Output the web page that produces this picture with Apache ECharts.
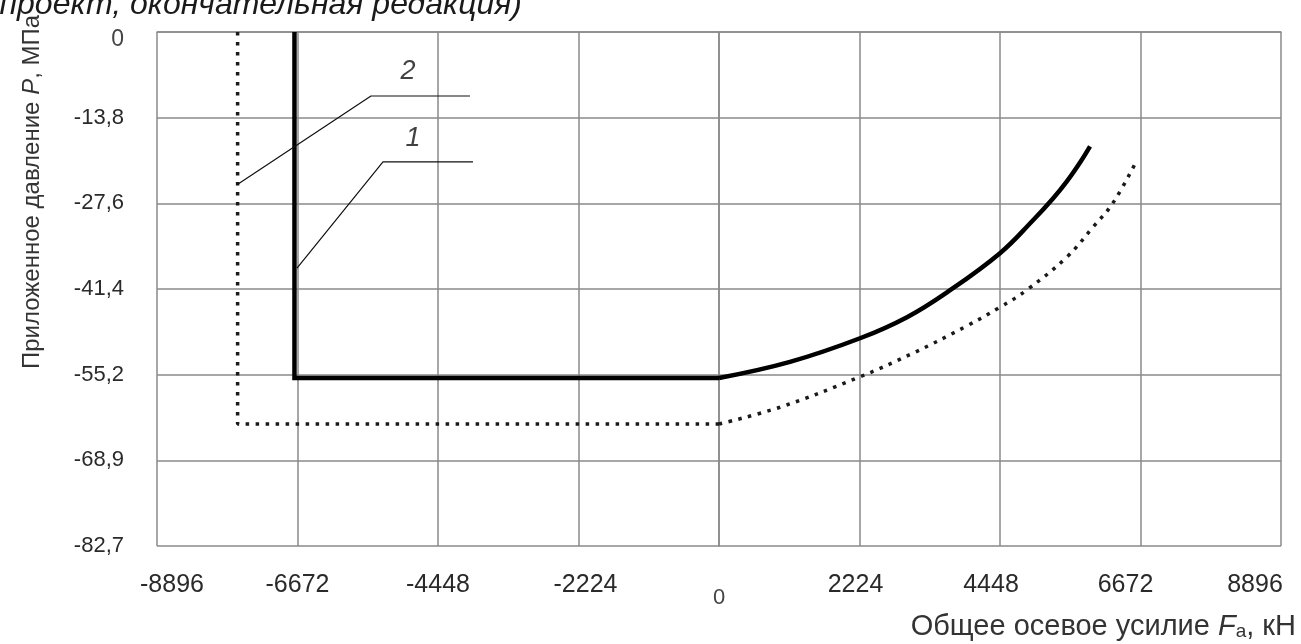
<!DOCTYPE html>
<html>
<head>
<meta charset="utf-8">
<script src="https://cdn.jsdelivr.net/npm/echarts@6/dist/echarts.min.js"></script>
<style>
html,body{margin:0;padding:0;background:#fff;}
#chartPressure{width:1301px;height:644px;}
</style>
</head>
<body>
<div id="chartPressure"></div>
<script>
// ticks
var xStep = 2224;
var yStep = 13.79;
var yTickLabels = ['0', '-13,8', '-27,6', '-41,4', '-55,2', '-68,9', '-82,7'];

// curve 1 (solid) and curve 2 (dotted): [F, kN ; P, MPa]
var curve1 = [[-6720, 0], [-6720, -55.7], [0, -55.7], [1124, -53.1], [2232, -49.3], [2976, -45.9],
    [3609, -41.9], [4448, -35.6], [4971, -30.3], [5287, -26.8], [5509, -24.0], [5715, -21.0], [5873, -18.4]];
var curve2 = [[-7620, 0], [-7620, -63.1], [0, -63.1], [966, -60.4], [2232, -55.5], [3071, -51.7],
    [3926, -47.3], [4448, -44.3], [4876, -41.5], [5509, -36.2], [5921, -31.4], [6237, -27.5], [6617, -20.6]];

// leader lines and their numbers
var leader1 = [[-6680, -38.0], [-5319, -20.9], [-3894, -20.9]];
var leader2 = [[-7630, -24.6], [-5509, -10.3], [-3942, -10.3]];
var leaderNames = ['1', '2'];
var leaderLabelPos = [[-4844, -17.2], [-4923, -6.4]];

var myChart = echarts.init(document.getElementById('chartPressure'));

var gridColor = '#8a8a8a';
var textColor = '#2a2a2a';
var solidStyle = {color: '#000', width: 4.5, join: 'miter'};
var dotStyle = {color: '#1a1a1a', width: 3.5, type: [3.5, 6.5], cap: 'butt'};

// labels in the scan sit a little off their ticks
var xLabelStyle = {
    '-8896': 'l30', '-2224': 'l14', '2224': 'r8', '4448': 'r18', '6672': 'r30', '8896': 'r52'
};

var option = {
    animation: false,
    backgroundColor: '#fff',
    grid: {left: 157, right: 20, top: 32, bottom: 98, containLabel: false, outerBoundsMode: 'none'},
    xAxis: {
        type: 'value',
        min: -4 * xStep,
        max: 4 * xStep,
        interval: xStep,
        axisLine: {show: true, lineStyle: {color: gridColor, width: 1.5}},
        axisTick: {show: false},
        splitLine: {show: true, lineStyle: {color: gridColor, width: 1.5}},
        axisLabel: {
            margin: 27,
            color: textColor,
            fontFamily: '"Liberation Sans Narrow", "Liberation Sans", Arial, sans-serif',
            fontSize: 25,
            formatter: function (v) {
                if (v === 0) return '{z|0}';
                var s = xLabelStyle[String(v)];
                return s ? '{' + s + '|' + v + '}' : String(v);
            },
            rich: {
                z: {fontFamily: 'Liberation Sans, Arial, sans-serif', fontSize: 22, color: '#444', padding: [14, 0, 0, 0]},
                l30: {padding: [0, 0, 0, 30]},
                l14: {padding: [0, 0, 0, 14]},
                r8: {padding: [0, 8, 0, 0]},
                r18: {padding: [0, 18, 0, 0]},
                r30: {padding: [0, 30, 0, 0]},
                r52: {padding: [0, 52, 0, 0]}
            }
        }
    },
    yAxis: {
        type: 'value',
        min: -6 * yStep,
        max: 0,
        interval: yStep,
        axisLine: {show: true, lineStyle: {color: gridColor, width: 1.5}},
        axisTick: {show: false},
        splitLine: {show: true, lineStyle: {color: gridColor, width: 1.5}},
        axisLabel: {
            margin: 33,
            color: textColor,
            fontFamily: 'Liberation Sans, Arial, sans-serif',
            fontSize: 22,
            formatter: function (v) {
                var i = Math.round(-v / yStep);
                if (i === 0) return '{z|' + yTickLabels[0] + '}';
                return yTickLabels[i];
            },
            rich: {
                z: {fontSize: 23, color: '#444', padding: [16, 0, 0, 0]}
            }
        }
    },
    graphic: [
        {
            type: 'text', x: 522, y: 21, z: 10,
            style: {
                text: '(проект, окончательная редакция)',
                font: 'italic 32px "Liberation Sans", Arial, sans-serif',
                fill: '#1a1a1a', textAlign: 'right', textVerticalAlign: 'bottom'
            }
        },
        {
            type: 'text', x: 32, y: 192, rotation: Math.PI / 2, z: 10,
            style: {
                text: 'Приложенное давление {i|P}, МПа',
                font: '24px "Liberation Sans", Arial, sans-serif',
                fill: '#333', textAlign: 'center', textVerticalAlign: 'middle',
                rich: {i: {fontStyle: 'italic', fontSize: 24, fill: '#333'}}
            }
        },
        {
            type: 'text', x: 1296, y: 627, z: 10,
            style: {
                text: 'Общее осевое усилие {i|F}{s|a}, кН',
                font: '29px "Liberation Sans", Arial, sans-serif',
                fill: '#333', textAlign: 'right', textVerticalAlign: 'middle',
                rich: {
                    i: {fontStyle: 'italic', fontSize: 29, fill: '#333'},
                    s: {fontSize: 19, fill: '#333', padding: [10, 0, 0, 0]}
                }
            }
        }
    ],
    series: [
        // straight parts
        {
            name: '2', type: 'line', data: curve2.slice(0, 3), showSymbol: false, z: 3,
            lineStyle: dotStyle
        },
        {
            name: '1', type: 'line', data: curve1.slice(0, 3), showSymbol: false, z: 4,
            lineStyle: solidStyle
        },
        // curved parts
        {
            name: '2c', type: 'line', data: curve2.slice(2), showSymbol: false, z: 3, smooth: 0.4,
            lineStyle: dotStyle
        },
        {
            name: '1c', type: 'line', data: curve1.slice(2), showSymbol: false, z: 4, smooth: 0.4,
            lineStyle: solidStyle
        },
        {
            name: 'leader1', type: 'line', data: leader1, showSymbol: false, z: 5,
            lineStyle: {color: '#111', width: 1.2}
        },
        {
            name: 'leader2', type: 'line', data: leader2, showSymbol: false, z: 5,
            lineStyle: {color: '#111', width: 1.2}
        },
        {
            name: 'labels', type: 'scatter', symbolSize: 0, z: 6,
            data: leaderNames.map(function (n, i) {
                return {name: n, value: leaderLabelPos[i]};
            }),
            label: {
                show: true, position: 'inside', formatter: '{b}',
                color: '#111', fontSize: 27, fontStyle: 'italic',
                fontFamily: 'Liberation Sans, Arial, sans-serif'
            }
        }
    ]
};

myChart.setOption(option);
</script>
</body>
</html>
